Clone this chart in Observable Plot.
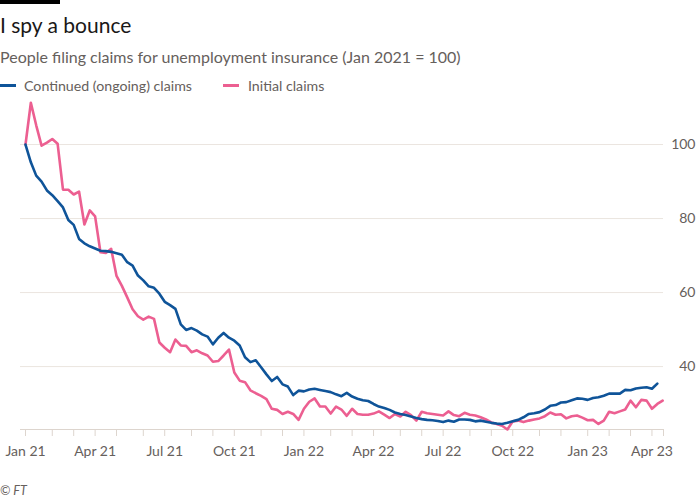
<!DOCTYPE html>
<html><head><meta charset="utf-8">
<script src="https://cdn.jsdelivr.net/npm/d3@7"></script>
<script src="https://cdn.jsdelivr.net/npm/@observablehq/plot@0.6"></script>
<style>
body{margin:0;background:#fff;font-family:Lato,sans-serif;}
#wrap{position:relative;width:700px;height:500px;overflow:hidden;background:#fff;}
.abs{position:absolute;white-space:nowrap;line-height:1;}
.sw{position:absolute;height:3px;width:16px;}
</style></head><body>
<div id="wrap">
  <div style="position:absolute;left:0;top:0;width:60px;height:4px;background:#000"></div>
  <div class="abs" style="left:0;top:14px;font-size:21px;color:#1a1817">I spy a bounce</div>
  <div class="abs" style="left:0;top:49px;font-size:16px;color:#66605c">People filing claims for unemployment insurance (Jan 2021 = 100)</div>
  <div class="sw" style="left:0;top:84px;background:#0f5499"></div>
  <div class="abs" style="left:24px;top:79px;font-size:14.2px;color:#66605c">Continued (ongoing) claims</div>
  <div class="sw" style="left:223px;top:84px;background:#ec5f91"></div>
  <div class="abs" style="left:248px;top:79px;font-size:14.2px;color:#66605c">Initial claims</div>
  <div id="chart" style="position:absolute;left:0;top:100px"></div>
  <div class="abs" style="left:0;top:485px;font-size:12.5px;font-style:italic;color:#66605c">© FT</div>
</div>
<script>
// Weekly series, first week ending 2 Jan 2021 (index = weeks since then)
const startDate = "2021-01-02";
const continued = [100,95.2,91.6,90.0,87.6,86.3,84.7,83.0,79.6,78.3,74.5,73.3,72.5,71.9,71.3,71.2,71.0,70.6,70.2,68.2,
  67.3,64.6,63.3,61.7,61.3,59.7,57.5,56.6,55.6,51.4,49.9,50.4,49.7,48.7,48.1,46.0,47.8,49.1,47.8,47.0,
  45.7,42.5,41.2,41.7,39.8,37.9,36.1,37.2,35.2,34.6,32.3,33.5,33.3,33.8,34.0,33.7,33.4,33.1,32.5,32.0,
  32.9,31.9,31.3,30.9,30.7,29.9,29.2,28.8,28.3,27.6,27.2,26.9,26.5,26.1,25.8,25.6,25.5,25.3,25.0,25.4,
  25.1,25.7,25.7,25.6,25.2,25.4,25.1,24.8,24.6,24.5,24.8,25.2,25.6,26.3,27.2,27.4,27.7,28.4,29.4,29.6,
  30.3,30.4,30.9,31.4,31.3,31.0,31.5,31.7,32.1,32.7,32.7,32.7,33.7,33.6,34.1,34.3,34.4,34.0,35.4];
const initial = [100,111.3,105.2,99.7,100.5,101.5,100.2,87.8,87.8,86.5,87.3,78.4,82.2,80.6,70.9,70.7,71.8,64.5,61.8,58.7,
  55.5,53.6,52.7,53.5,52.9,46.5,45.1,43.9,47.3,45.7,45.6,43.9,44.4,43.6,43.0,41.3,41.5,43.0,44.6,38.4,
  36.2,35.8,33.6,32.8,32.1,31.2,28.6,28.3,27.2,27.8,27.2,25.6,28.6,30.5,31.4,29.2,29.2,27.3,29.2,28.4,
  26.7,28.6,27.2,27.0,27.0,27.3,27.9,27.0,26.1,27.2,26.5,27.8,26.9,25.4,27.8,27.4,27.2,27.0,26.8,27.9,
  26.9,26.6,27.5,27.0,26.8,26.3,25.7,24.9,24.5,24.0,23.0,25.2,25.4,25.0,25.4,25.7,26.0,26.6,27.6,27.0,
  27.1,26.0,26.6,26.8,26.2,25.5,25.6,24.5,25.4,27.8,27.4,27.9,28.4,30.8,29.0,31.0,30.8,28.6,29.9,30.8];
const seriesNames = ["Continued (ongoing) claims", "Initial claims"];
const colors = ["#0f5499", "#ec5f91"];
const yTicks = [40, 60, 80, 100];
const quarterMonths = [0, 3, 6, 9];

const start = new Date(startDate + "T00:00:00Z");
const weekDate = i => d3.utcDay.offset(start, 7 * i);
const rows = [];
initial.forEach((v, i) => rows.push({date: weekDate(i), value: v, series: seriesNames[1]}));
continued.forEach((v, i) => rows.push({date: weekDate(i), value: v, series: seriesNames[0]}));

// ticks: first weekly date of each month
const allDates = initial.map((_, i) => weekDate(i));
const tickDates = allDates.filter((d, i) => i === 0 || d.getUTCMonth() !== allDates[i - 1].getUTCMonth());
const xDomain = [d3.utcHour.offset(start, -157), d3.utcHour.offset(allDates[allDates.length - 1], 26)];
const fmt = d3.utcFormat("%b %y");
const labelSet = new Set(tickDates.filter(d => quarterMonths.includes(d.getUTCMonth())).map(d => +d));

const chart = Plot.plot({
  width: 700, height: 369,
  marginLeft: 20, marginRight: 37, marginTop: 0, marginBottom: 40,
  style: {fontFamily: "Lato, sans-serif", fontSize: "14px", color: "#66605c", background: "#fff", overflow: "visible"},
  x: {type: "utc", domain: xDomain},
  y: {domain: [23, 111.9]},
  color: {domain: seriesNames, range: colors},
  marks: [
    Plot.gridY(yTicks, {stroke: "#ebe5df", strokeOpacity: 1, strokeWidth: 1}),
    Plot.axisY(yTicks, {anchor: "right", tickSize: 0, tickPadding: 32, textAnchor: "end", fill: "#66605c", label: null}),
    Plot.frame({anchor: "bottom", stroke: "#ddd5ce"}),
    Plot.axisX([...tickDates, xDomain[1]], {anchor: "bottom", tickSize: 7, tickPadding: 10, stroke: "#ddd5ce", fill: "#66605c", label: null,
      tickFormat: d => labelSet.has(+d) ? fmt(d) : ""}),
    Plot.lineY(rows.filter(r => r.series === seriesNames[1]), {x: "date", y: "value", stroke: "series", strokeWidth: 2.6}),
    Plot.lineY(rows.filter(r => r.series === seriesNames[0]), {x: "date", y: "value", stroke: "series", strokeWidth: 2.6})
  ]
});
document.getElementById("chart").appendChild(chart);
</script>
</body></html>
